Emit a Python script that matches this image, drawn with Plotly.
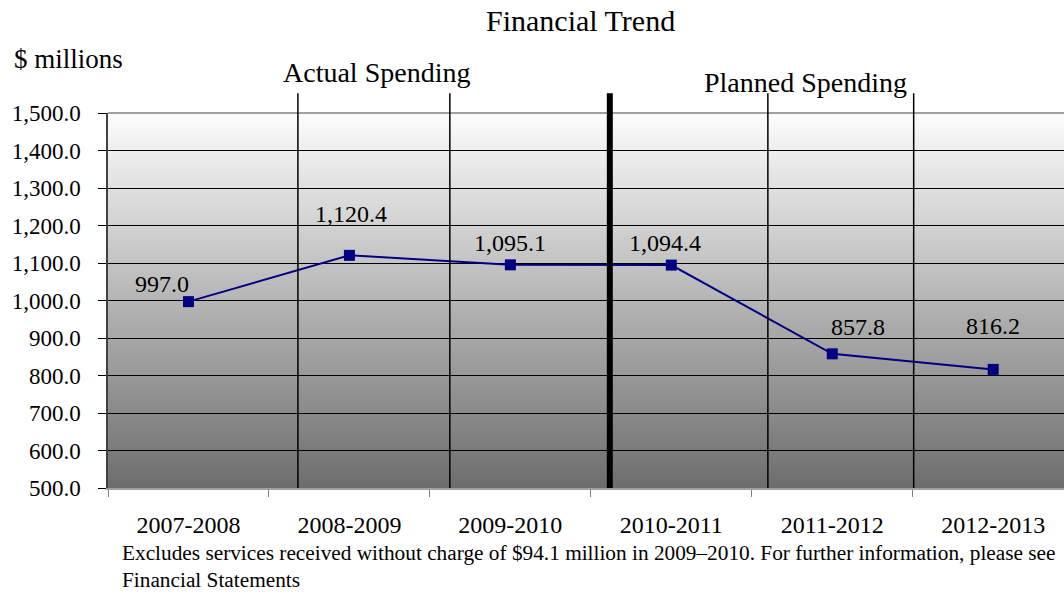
import plotly.graph_objects as go

categories = ["2007-2008", "2008-2009", "2009-2010", "2010-2011", "2011-2012", "2012-2013"]
spending = [997.0, 1120.4, 1095.1, 1094.4, 857.8, 816.2]
labels = ["997.0", "1,120.4", "1,095.1", "1,094.4", "857.8", "816.2"]
label_shift_x = [-26, 2, 0, -6, 26, 0]
label_shift_y = [18, 41, 22, 22, 27, 43]
divider_x = [0.68, 1.624, 3.6, 4.506]
thick_divider_x = 2.618

FONT = "'Liberation Serif', 'Times New Roman', Times, 'DejaVu Serif', serif"

fig = go.Figure()
fig.add_trace(go.Scatter(
    x=categories, y=spending, mode="lines+markers",
    line=dict(color="#000080", width=2),
    marker=dict(symbol="square", size=11, color="#000080"),
    hoverinfo="skip", showlegend=False,
))

shapes = []
# vertical gradient background
n = 75
for i in range(n):
    t = i / (n - 1)
    v = int(round(252 - (252 - 110) * t))
    shapes.append(dict(type="rect", xref="paper", yref="paper",
                       x0=0, x1=1, y0=1 - (i + 1) / n, y1=1 - i / n,
                       fillcolor=f"rgb({v},{v},{v})", line=dict(width=0),
                       layer="below"))
# top border
shapes.append(dict(type="line", xref="paper", yref="paper", x0=0, x1=1, y0=1, y1=1,
                   line=dict(color="#a0a0a0", width=2)))
for xv in divider_x:
    shapes.append(dict(type="line", xref="x", yref="paper", x0=xv, x1=xv,
                       y0=0, y1=1.053, line=dict(color="black", width=1.5)))
shapes.append(dict(type="line", xref="x", yref="paper", x0=thick_divider_x, x1=thick_divider_x,
                   y0=0, y1=1.053, line=dict(color="black", width=6)))

annotations = []
for c, v, lab, dx, dy in zip(categories, spending, labels, label_shift_x, label_shift_y):
    annotations.append(dict(x=c, y=v, xref="x", yref="y", text=lab, showarrow=False,
                            xanchor="center", yanchor="middle",
                            xshift=dx, yshift=dy, font=dict(family=FONT, size=24, color="black")))

def pa(px, py):
    return (px - 108) / 956, (488 - py) / 375

def txt(px, py, text, size, xanchor="center"):
    x, y = pa(px, py)
    annotations.append(dict(x=x, y=y, xref="paper", yref="paper", text=text,
                            xanchor=xanchor, yanchor="middle", showarrow=False,
                            font=dict(family=FONT, size=size, color="black")))

txt(580, 21, "Financial Trend", 30)
txt(12, 59, "$ millions", 27, "left")
txt(376, 72, "Actual Spending", 28)
txt(805, 82, "Planned Spending", 28)
txt(120, 553, "Excludes services received without charge of $94.1 million in 2009\u20132010. For further information, please see", 21.3, "left")
txt(120, 580, "Financial Statements", 21.3, "left")

fig.update_layout(
    width=1064, height=594,
    margin=dict(l=108, r=0, t=113, b=106),
    paper_bgcolor="white", plot_bgcolor="white",
    shapes=shapes, annotations=annotations,
    font=dict(family=FONT, color="black"),
    xaxis=dict(type="category", range=[-0.5, 5.44], showgrid=False, tickson="boundaries",
               ticks="outside", ticklen=7, tickcolor="#808080", showline=True, linecolor="#a0a0a0",
               linewidth=1.5, tickfont=dict(family=FONT, size=24, color="black"),
               ticklabelstandoff=14, zeroline=False, fixedrange=True),
    yaxis=dict(range=[500, 1500], dtick=100, tickformat=",.1f", showgrid=True, gridcolor="black",
               gridwidth=1, ticks="outside", ticklen=8, tickcolor="black", showline=True,
               linecolor="#404040", linewidth=1.5, tickfont=dict(family=FONT, size=23, color="black"),
               ticklabelstandoff=13, zeroline=False, fixedrange=True),
)

fig.write_html("out.html")
